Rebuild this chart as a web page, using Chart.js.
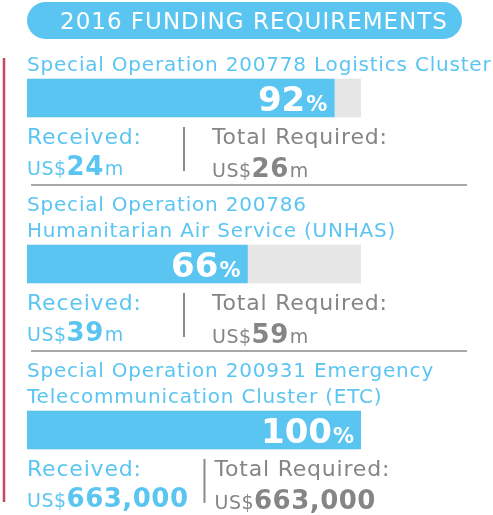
<!DOCTYPE html>
<html>
<head>
<meta charset="utf-8">
<script src="https://cdn.jsdelivr.net/npm/chart.js@4"></script>
<style>
  html, body { margin: 0; padding: 0; background: #ffffff; }
  #lienzo { display: block; }
</style>
</head>
<body>
<canvas id="lienzo" width="493" height="515"></canvas>
<script>
/* Datos del gráfico */
const titulo = '2016 FUNDING REQUIREMENTS';
const operaciones = [
  ['Special Operation 200778 Logistics Cluster'],
  ['Special Operation 200786', 'Humanitarian Air Service (UNHAS)'],
  ['Special Operation 200931 Emergency', 'Telecommunication Cluster (ETC)']
];
const porcentajes = [92, 66, 100];
const recibido = ['24', '39', '663,000'];
const requerido = ['26', '59', '663,000'];
const unidades = ['m', 'm', ''];

const AZUL = '#5bc5f2';
const GRIS_PISTA = '#e6e6e6';
const GRIS_TEXTO = '#858585';
const GRIS_LINEA = '#8a8a8a';
const FUENTE = '"DejaVu Sans", Verdana, sans-serif';

function texto(ctx, t, x, y, fuente, color, espacio, alinear) {
  ctx.font = fuente;
  ctx.fillStyle = color;
  ctx.letterSpacing = espacio || '0px';
  ctx.textAlign = alinear || 'left';
  ctx.textBaseline = 'alphabetic';
  ctx.fillText(t, x, y);
  return ctx.measureText(t).width;
}

function ancho(ctx, t, fuente, espacio) {
  ctx.font = fuente;
  ctx.letterSpacing = espacio || '0px';
  return ctx.measureText(t).width;
}

const pluginInfografia = {
  id: 'infografia',
  afterDatasetsDraw(chart) {
    const ctx = chart.ctx;
    const area = chart.chartArea;
    const ejeX = chart.scales.x;
    const ejeY = chart.scales.y;
    ctx.save();

    // cabecera en forma de píldora
    ctx.fillStyle = AZUL;
    ctx.beginPath();
    ctx.roundRect(27, 2, 435, 37, 18.5);
    ctx.fill();
    texto(ctx, titulo, 60, 29, '23px ' + FUENTE, '#ffffff', '1px');

    // línea roja lateral
    ctx.strokeStyle = '#c8485e';
    ctx.lineWidth = 2.5;
    ctx.beginPath();
    ctx.moveTo(4, 58);
    ctx.lineTo(4, 502);
    ctx.stroke();

    operaciones.forEach((lineas, i) => {
      const cy = ejeY.getPixelForValue(i);
      const izq = area.left;

      // título de la operación
      lineas.forEach((l, k) => {
        const base = cy - 27 - (lineas.length - 1 - k) * 26;
        texto(ctx, l, izq, base, '20px ' + FUENTE, AZUL, '0.8px');
      });

      // porcentaje dentro de la barra
      const finBarra = ejeX.getPixelForValue(porcentajes[i]);
      const fPct = 'bold 21px ' + FUENTE;
      const fNum = 'bold 34px ' + FUENTE;
      const wPct = ancho(ctx, '%', fPct);
      texto(ctx, '%', finBarra - 7, cy + 13, fPct, '#ffffff', '0px', 'right');
      texto(ctx, String(porcentajes[i]), finBarra - 8 - wPct, cy + 13, fNum, '#ffffff', '0px', 'right');

      // recibido
      const fEtiqueta = '22px ' + FUENTE;
      const fPeq = '19px ' + FUENTE;
      const fGrande = 'bold 26px ' + FUENTE;
      texto(ctx, 'Received:', izq, cy + 46, fEtiqueta, AZUL, '0.8px');
      let x = izq;
      x += texto(ctx, 'US$', x, cy + 77, fPeq, AZUL, '0.5px');
      x += texto(ctx, recibido[i], x, cy + 77, fGrande, AZUL, '0.5px');
      if (unidades[i]) x += texto(ctx, unidades[i], x + 1, cy + 77, fPeq, AZUL, '0px');

      // separador vertical
      const xSep = Math.max(184, x + 16);
      ctx.strokeStyle = GRIS_LINEA;
      ctx.lineWidth = 2;
      ctx.beginPath();
      ctx.moveTo(xSep, cy + 29);
      ctx.lineTo(xSep, cy + 73);
      ctx.stroke();

      // total requerido
      const xTot = Math.max(212, xSep + 10);
      texto(ctx, 'Total Required:', xTot, cy + 46, fEtiqueta, GRIS_TEXTO, '0.8px');
      let x2 = xTot;
      x2 += texto(ctx, 'US$', x2, cy + 79, fPeq, GRIS_TEXTO, '0.5px');
      x2 += texto(ctx, requerido[i], x2, cy + 79, fGrande, GRIS_TEXTO, '0.5px');
      if (unidades[i]) texto(ctx, unidades[i], x2 + 1, cy + 79, fPeq, GRIS_TEXTO, '0px');

      // línea horizontal entre secciones
      if (i < operaciones.length - 1) {
        ctx.strokeStyle = GRIS_LINEA;
        ctx.lineWidth = 1.5;
        ctx.beginPath();
        ctx.moveTo(31, cy + 87);
        ctx.lineTo(467, cy + 87);
        ctx.stroke();
      }
    });

    ctx.restore();
  }
};

new Chart(document.getElementById('lienzo'), {
  type: 'bar',
  data: {
    labels: operaciones.map(l => l.join(' ')),
    datasets: [
      {
        label: 'Received',
        data: porcentajes,
        backgroundColor: AZUL,
        barThickness: 38,
        grouped: false,
        order: 0
      },
      {
        label: 'Total',
        data: operaciones.map(() => 100),
        backgroundColor: GRIS_PISTA,
        barThickness: 38,
        grouped: false,
        order: 1
      }
    ]
  },
  options: {
    indexAxis: 'y',
    responsive: false,
    animation: false,
    layout: { padding: { left: 27, right: 132, top: 15, bottom: 2 } },
    plugins: { legend: { display: false }, tooltip: { enabled: false } },
    scales: {
      x: { display: false, min: 0, max: 100 },
      y: { display: false }
    }
  },
  plugins: [pluginInfografia]
});
</script>
</body>
</html>
